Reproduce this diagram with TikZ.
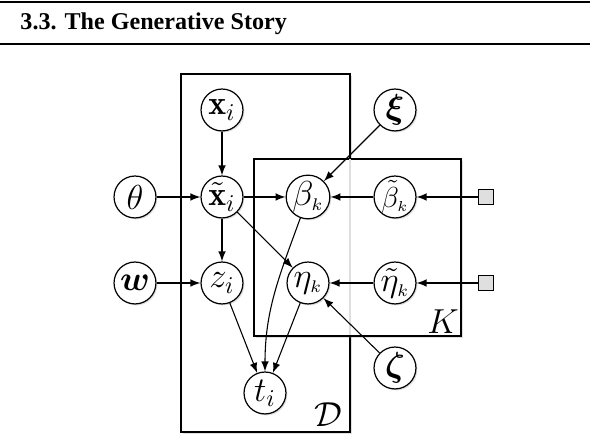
\documentclass[tikz,border=0pt]{standalone}
\usepackage{amsmath}
\usepackage{amssymb}
\usepackage{bm}
\usepackage{fontspec}
\usepackage{tikz}
\usetikzlibrary{arrows}
\usetikzlibrary{shadows}
\newfontfamily\titlefont{Liberation Serif}

\tikzset{
var/.style={circle,draw,fill=white,minimum size=17.4pt,inner sep=0pt,line width=0.5pt,
  font=\fontsize{14}{16}\selectfont,
  drop shadow={shadow xshift=0.6pt,shadow yshift=-0.6pt,opacity=0.25}},
hyper/.style={rectangle,draw,fill=gray!25,minimum size=6.2pt,inner sep=0pt,line width=0.6pt},
plate/.style={draw,line width=0.6pt,fill=white,
  drop shadow={shadow xshift=0.8pt,shadow yshift=-0.8pt,opacity=0.25}},
edge/.style={->,>=latex,line width=0.45pt}
}

\begin{document}
\begin{tikzpicture}[x=0.415pt,y=0.415pt]
\useasboundingbox (0,0) rectangle (590,440);
% heading
\draw[line width=1pt] (0,438) -- (590,438);
\draw[line width=1pt] (0,396) -- (590,396);
\node[anchor=base west,inner sep=0pt,font=\titlefont\bfseries\fontsize{10}{12}\selectfont] (title) at (20,410) {3.3. The Generative Story};
% plates
\draw[plate] (181,8) rectangle (350,366);
\draw[plate] (254,104) rectangle (461,281);
\draw[gray!25,line width=0.6pt] (350,104.5) -- (350,280.5);
\node[font=\fontsize{15}{17}\selectfont] (lD) at (328,25) {$\mathcal{D}$};
\node[font=\fontsize{15}{17}\selectfont] (lK) at (443,118) {$K$};
% variables
\node[var] (xi) at (222,330) {$\mathbf{x}_i$};
\node[var,inner sep=-1pt] (xt) at (222,243) {$\tilde{\mathbf{x}}_i$};
\node[var] (th) at (135,243) {$\theta$};
\node[var] (bk) at (308,243) {$\beta_{\scriptscriptstyle k}$};
\node[var,inner sep=-1pt,font=\fontsize{13}{15}\selectfont] (bt) at (395,243) {$\tilde{\beta}_{\scriptscriptstyle k}$};
\node[var] (xs) at (395,330) {$\bm{\xi}$};
\node[var] (w) at (135,157) {$\bm{w}$};
\node[var] (zi) at (222,157) {$z_i$};
\node[var] (ek) at (308,157) {$\eta_{\scriptscriptstyle k}$};
\node[var,inner sep=-1pt] (et) at (395,157) {$\tilde{\eta}_{\scriptscriptstyle k}$};
\node[var] (zt) at (395,72) {$\bm{\zeta}$};
\node[var] (ti) at (265,47) {$t_i$};
\node[hyper] (hb) at (486,243) {};
\node[hyper] (he) at (486,157) {};
% edges
\draw[edge] (xi) -- (xt);
\draw[edge] (th) -- (xt);
\draw[edge] (xt) -- (bk);
\draw[edge] (bt) -- (bk);
\draw[edge] (hb) -- (bt);
\draw[edge] (xs) -- (bk);
\draw[edge] (xt) -- (zi);
\draw[edge] (xt) -- (ek);
\draw[edge] (w) -- (zi);
\draw[edge] (et) -- (ek);
\draw[edge] (he) -- (et);
\draw[edge] (zt) -- (ek);
\draw[edge] (zi) -- (ti);
\draw[edge] (ek) -- (ti);
\draw[edge] (bk) to[out=250,in=90] (ti);
\end{tikzpicture}
\end{document}
